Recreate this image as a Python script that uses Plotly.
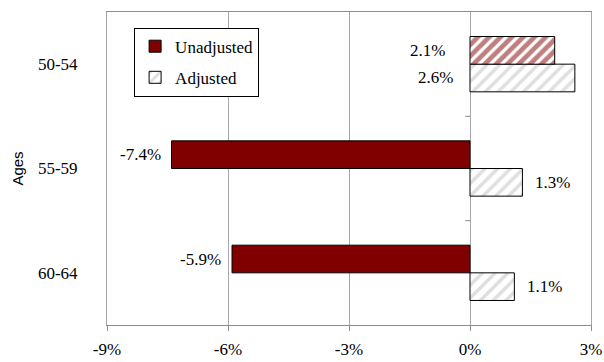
import plotly.graph_objects as go

# Age groups listed bottom-to-top on the chart
ages = ["60-64", "55-59", "50-54"]
unadjusted = [-5.9, -7.4, 2.1]
adjusted = [1.1, 1.3, 2.6]
x_ticks = [-9, -6, -3, 0, 3]
x_tick_labels = ["-9%", "-6%", "-3%", "0%", "3%"]

DARK_RED = "#800000"
SERIF = "Liberation Serif, Times New Roman, serif"
BAR_GAP = 0.47

fig = go.Figure()

fig.add_trace(go.Bar(
    name="Adjusted",
    legendgroup="adj",
    legendrank=2,
    y=ages,
    x=adjusted,
    orientation="h",
    marker=dict(
        color="#bfbfbf",
        line=dict(color="black", width=1),
        pattern=dict(shape="/", fgcolor="#bfbfbf", bgcolor="white",
                     size=9, solidity=0.4),
    ),
))

fig.add_trace(go.Bar(
    name="Unadjusted",
    legendgroup="unadj",
    legendrank=1,
    y=ages,
    x=unadjusted,
    orientation="h",
    marker=dict(
        color=DARK_RED,
        line=dict(color="black", width=1),
        pattern=dict(shape=["", "", "/"], fgcolor=DARK_RED, bgcolor="white",
                     size=8, solidity=0.6),
    ),
))

# Value labels next to each bar
half = (1 - BAR_GAP) / 4
annotations = []
for series, offset in ((adjusted, -half), (unadjusted, half)):
    for i, (age, v) in enumerate(zip(ages, series)):
        label = f"{v:.1f}%"
        if age == "50-54":
            # both bars positive: labels sit left of the axis
            shift = -23 if series is unadjusted else -15
            ax, anchor = 0, "right"
        elif v < 0:
            ax, anchor, shift = v, "right", -9
        else:
            ax, anchor, shift = v, "left", 11
        annotations.append(dict(
            x=ax, y=i + offset, xref="x", yref="y", text=label,
            showarrow=False, xanchor=anchor, yanchor="middle", xshift=shift,
            font=dict(family=SERIF, size=17, color="black"),
        ))

# Tick marks on the zero axis at category boundaries
shapes = []
for b in (0.5, 1.5):
    shapes.append(dict(type="line", xref="x", yref="y", x0=-0.12, x1=0,
                       y0=b, y1=b, line=dict(color="#8c8c8c", width=1)))

fig.update_layout(
    width=604,
    height=362,
    margin=dict(l=107, r=13, t=12, b=37),
    paper_bgcolor="white",
    plot_bgcolor="white",
    barmode="group",
    bargap=BAR_GAP,
    bargroupgap=0,
    font=dict(family=SERIF, size=17, color="black"),
    showlegend=True,
    legend=dict(
        traceorder="grouped",
        tracegroupgap=6,
        x=0.056, y=0.95, xanchor="left", yanchor="top",
        bordercolor="black", borderwidth=1, bgcolor="white",
        font=dict(family=SERIF, size=17, color="black"),
        itemwidth=30,
    ),
    annotations=annotations,
    shapes=shapes,
    xaxis=dict(
        range=[-9, 3],
        tickvals=x_ticks,
        ticktext=x_tick_labels,
        automargin=False,
        showgrid=True,
        gridcolor="#a6a6a6",
        gridwidth=1,
        zeroline=False,
        showline=True,
        linecolor="#8c8c8c",
        linewidth=1,
        mirror=True,
        ticks="outside",
        ticklen=5,
        tickcolor="#8c8c8c",
        ticklabelstandoff=4,
        tickfont=dict(family=SERIF, size=17, color="black"),
    ),
    yaxis=dict(
        categoryorder="array",
        categoryarray=ages,
        automargin=False,
        showgrid=False,
        zeroline=False,
        showline=True,
        linecolor="#a6a6a6",
        linewidth=1,
        mirror=True,
        ticks="",
        ticklabelstandoff=25,
        tickfont=dict(family=SERIF, size=17, color="black"),
        title=dict(text="Ages", standoff=10,
                   font=dict(family="Liberation Sans, Arial, sans-serif",
                             size=15, color="black")),
    ),
)

fig.write_html("out.html")
